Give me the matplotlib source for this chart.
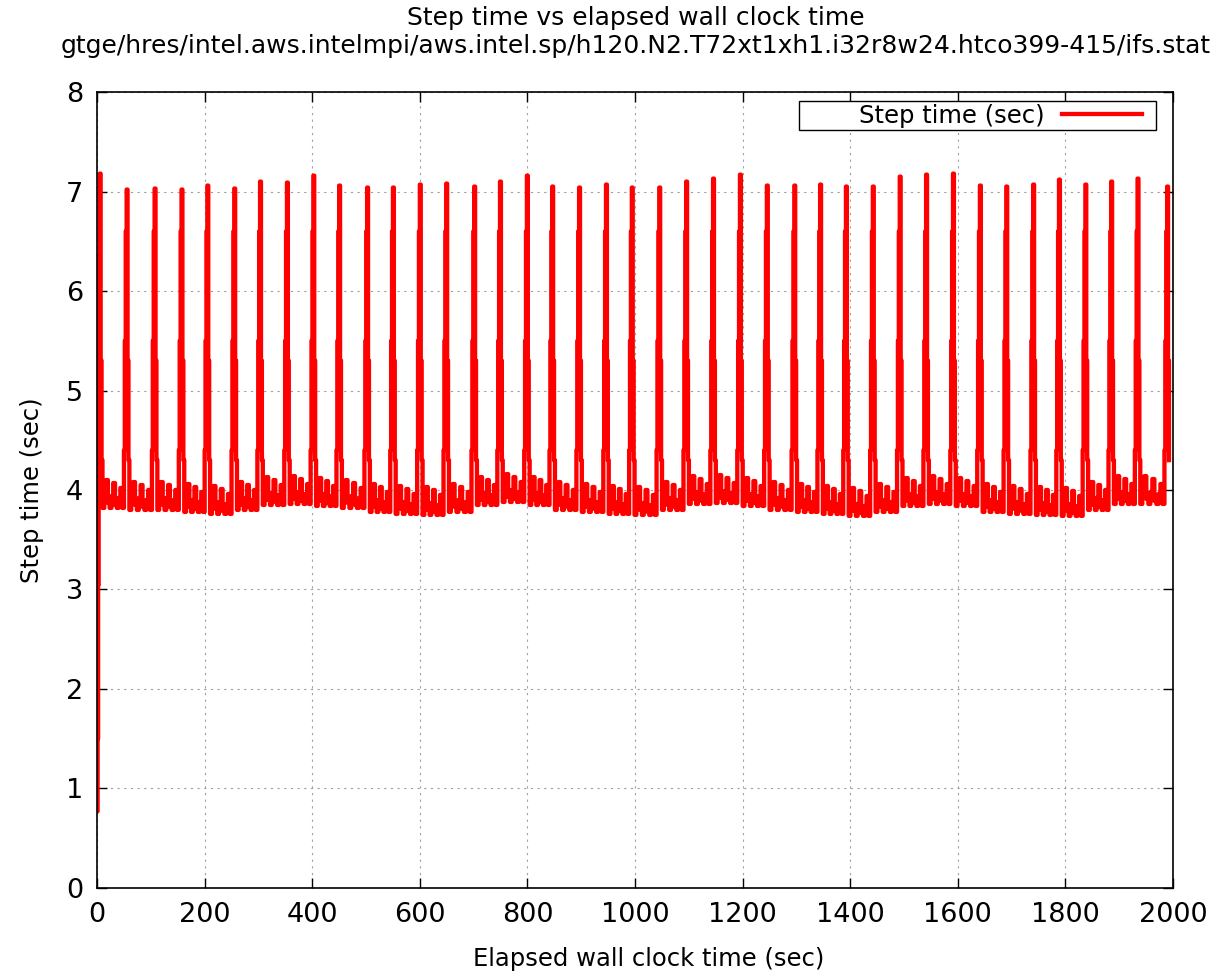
import numpy as np
import matplotlib.pyplot as plt
from matplotlib.patches import Rectangle

# start-up steps (elapsed time, step time)
start_t = [0.0, 1.0, 2.0, 3.0, 4.0]
start_v = [0.77, 1.5, 3.05, 4.75, 6.35]

# radiation-step spikes: time of each spike and its height
peak_t = [5, 55, 107, 157, 205, 255, 303, 353, 402, 450, 502, 550, 600, 649,
          701, 749, 799, 846, 896, 946, 994, 1045, 1095, 1145, 1195, 1245,
          1296, 1344, 1392, 1442, 1492, 1541, 1591, 1641, 1690, 1740, 1788,
          1837, 1885, 1934, 1989]
peak_v = [7.18, 7.02, 7.03, 7.02, 7.06, 7.03, 7.10, 7.09, 7.16, 7.06, 7.04,
          7.04, 7.07, 7.08, 7.05, 7.10, 7.16, 7.05, 7.04, 7.07, 7.04, 7.04,
          7.10, 7.13, 7.17, 7.06, 7.06, 7.07, 7.05, 7.05, 7.15, 7.17, 7.18,
          7.06, 7.05, 7.07, 7.12, 7.07, 7.10, 7.13, 7.05]

# baseline level between consecutive spikes
base_v = [3.82, 3.80, 3.80, 3.78, 3.76, 3.80, 3.85, 3.86, 3.84, 3.82, 3.78,
          3.76, 3.75, 3.78, 3.85, 3.88, 3.85, 3.80, 3.78, 3.76, 3.75, 3.80,
          3.86, 3.87, 3.84, 3.80, 3.78, 3.76, 3.74, 3.78, 3.84, 3.86, 3.84,
          3.78, 3.76, 3.75, 3.74, 3.80, 3.86, 3.86]

# levels on the way up / down each spike
rise_dt = [-5.0, -3.4, -1.7]
rise_v = [4.4, 5.5, 6.6]
fall_dt = [1.7, 3.4]
fall_v = [5.3, 4.3]

# small bumps on top of the baseline between spikes
bump_v = [0.0, 0.15, 0.28, 0.05, 0.0, 0.12, 0.25, 0.03, 0.0, 0.1, 0.2, 0.0]

t, y = list(start_t), list(start_v)
for i, (tp, vp) in enumerate(zip(peak_t, peak_v)):
    if i > 0:
        t += [tp + d for d in rise_dt]
        y += rise_v
    t.append(tp)
    y.append(vp)
    t += [tp + d for d in fall_dt]
    y += fall_v
    if i < len(base_v):
        t0 = tp + 5.1
        t1 = peak_t[i + 1] - 5.0
        dt = (t1 - t0) / len(bump_v)
        for k, b in enumerate(bump_v):
            t.append(t0 + k * dt)
            y.append(base_v[i] + b)

fig = plt.figure(figsize=(12.3, 9.73), dpi=100)
ax = fig.add_axes([0.0789, 0.0874, 0.8748, 0.818])
ax.plot(t, y, color='#ff0000', lw=3.1, drawstyle='steps-post',
        label='Step time (sec)')

ax.set_xlim(0, 2000)
ax.set_ylim(0, 8)
ax.set_xticks(np.arange(0, 2001, 200))
ax.set_yticks(np.arange(0, 9, 1))
ax.tick_params(direction='in', length=7, width=1, labelsize=19.5,
               top=True, right=True, pad=10)
ax.grid(True, color='#a0a0a0', linestyle=(0, (2, 4)), lw=0.8)
for s in ax.spines.values():
    s.set_linewidth(1.2)

ax.set_xlabel('Elapsed wall clock time (sec)', fontsize=17.5)
ax.xaxis.set_label_coords(0.513, -0.074)
ax.set_ylabel('Step time (sec)', fontsize=17.5, labelpad=16)
fig.text(0.517, 0.981, 'Step time vs elapsed wall clock time',
         ha='center', va='center', fontsize=18)
fig.text(0.517, 0.953,
         'gtge/hres/intel.aws.intelmpi/aws.intel.sp/h120.N2.T72xt1xh1.i32r8w24.htco399-415/ifs.stat',
         ha='center', va='center', fontsize=18)

# gnuplot-style key box
ax.add_patch(Rectangle((0.6524, 0.9523), 0.3318, 0.0364, transform=ax.transAxes,
                       facecolor='white', edgecolor='black', lw=1.0, zorder=4.5))
ax.legend(loc='center right', bbox_to_anchor=(0.9712, 0.9705),
          markerfirst=False, handlelength=3.3, handletextpad=0.7,
          fontsize=17.5, frameon=False, borderpad=0, borderaxespad=0)

fig.savefig('out.png')
